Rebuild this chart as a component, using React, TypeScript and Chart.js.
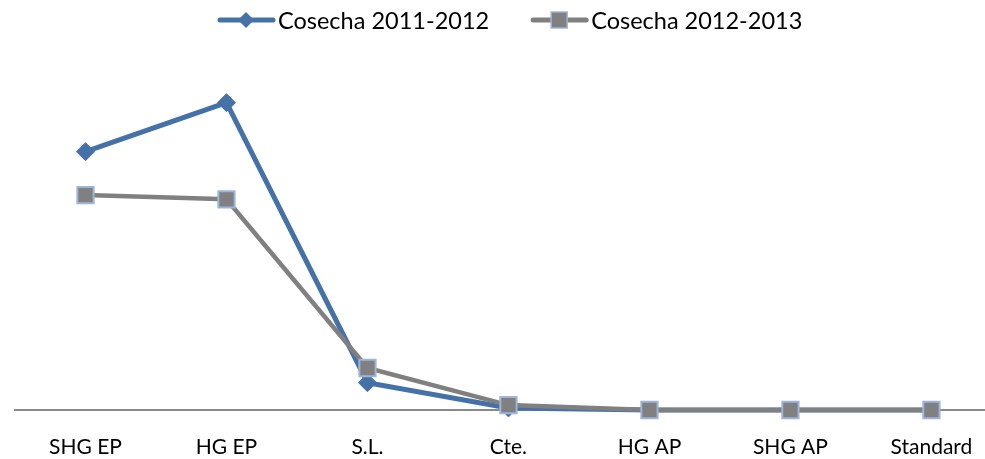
import React, { useEffect, useRef } from 'react';
import { Chart, registerables } from 'chart.js';

Chart.register(...registerables);

const categories = ['SHG EP', 'HG EP', 'S.L.', 'Cte.', 'HG AP', 'SHG AP', 'Standard'];
const series1Name = 'Cosecha 2011-2012';
const series2Name = 'Cosecha 2012-2013';
const series1Values = [36.9, 43.9, 3.9, 0.3, 0, 0, 0];
const series2Values = [30.7, 30.1, 6.0, 0.7, 0, 0, 0];
const yMin = 0;
const yMax = 50;

const BLUE = '#4472A8';
const GRAY = '#808080';
const SQ_BORDER = '#9DB5DB';
const AXIS = '#8A8A8A';
const FONT = 'Lato, sans-serif';

const legendPlugin = {
  id: 'excelLegend',
  afterDraw(chart: any) {
    const ctx = chart.ctx as CanvasRenderingContext2D;
    ctx.save();
    ctx.font = `23.5px ${FONT}`;
    ctx.textBaseline = 'middle';
    const y = 20;
    let x = 218;
    const items = [
      { name: series1Name, color: BLUE, marker: 'diamond' },
      { name: series2Name, color: GRAY, marker: 'square' },
    ];
    items.forEach((it) => {
      ctx.strokeStyle = it.color;
      ctx.lineWidth = 5;
      ctx.lineCap = 'round';
      ctx.beginPath();
      ctx.moveTo(x + 2, y);
      ctx.lineTo(x + 55, y);
      ctx.stroke();
      const cx = x + 28;
      if (it.marker === 'diamond') {
        ctx.fillStyle = BLUE;
        ctx.beginPath();
        ctx.moveTo(cx, y - 8);
        ctx.lineTo(cx + 8, y);
        ctx.lineTo(cx, y + 8);
        ctx.lineTo(cx - 8, y);
        ctx.closePath();
        ctx.fill();
      } else {
        ctx.fillStyle = GRAY;
        ctx.fillRect(cx - 8, y - 8, 16, 16);
        ctx.strokeStyle = SQ_BORDER;
        ctx.lineWidth = 1.5;
        ctx.strokeRect(cx - 8, y - 8, 16, 16);
      }
      ctx.fillStyle = '#000';
      ctx.fillText(it.name, x + 60, y + 1);
      const w = ctx.measureText(it.name).width;
      x = x + 60 + w + 42;
    });
    ctx.restore();
  },
};

export default function App() {
  const ref = useRef<HTMLCanvasElement | null>(null);
  useEffect(() => {
    if (!ref.current) return;
    const chart = new Chart(ref.current, {
      type: 'line',
      data: {
        datasets: [
          {
            label: series1Name,
            data: series1Values.map((v, i) => ({ x: i, y: v })),
            borderColor: BLUE,
            backgroundColor: BLUE,
            borderWidth: 5,
            pointStyle: 'rectRot',
            pointRadius: 9,
            pointBorderWidth: 1,
            pointBorderColor: BLUE,
            pointBackgroundColor: BLUE,
            clip: false,
            order: 1,
          },
          {
            label: series2Name,
            data: series2Values.map((v, i) => ({ x: i, y: v })),
            borderColor: GRAY,
            backgroundColor: GRAY,
            borderWidth: 4.5,
            pointStyle: 'rect',
            pointRadius: 11.5,
            pointBorderWidth: 2,
            pointBorderColor: SQ_BORDER,
            pointBackgroundColor: GRAY,
            clip: false,
            order: 0,
          },
        ],
      },
      options: {
        animation: false,
        responsive: true,
        maintainAspectRatio: false,
        layout: { autoPadding: false, padding: { top: 60, left: 15, right: 0, bottom: 2 } },
        plugins: {
          legend: { display: false },
          tooltip: { enabled: false },
        },
        scales: {
          x: {
            type: 'linear',
            min: -0.5,
            max: 6.38,
            afterBuildTicks: (axis: any) => {
              axis.ticks = categories.map((_, i) => ({ value: i }));
            },
            afterFit: (axis: any) => {
              axis.height = 47;
              axis.paddingLeft = 0;
              axis.paddingRight = 0;
            },
            grid: { display: false, drawTicks: false },
            border: { display: true, color: AXIS, width: 2 },
            ticks: {
              autoSkip: false,
              maxRotation: 0,
              padding: 25,
              color: '#000',
              font: { family: FONT, size: 21 },
              callback: (v: any) => categories[v as number] ?? '',
            },
          },
          y: {
            display: false,
            min: yMin,
            max: yMax,
          },
        },
      },
      plugins: [legendPlugin],
    });
    return () => chart.destroy();
  }, []);
  return (
    <div style={{ position: 'fixed', left: 0, top: 0, width: 985, height: 459, background: '#fff' }}>
      <canvas ref={ref} />
    </div>
  );
}
